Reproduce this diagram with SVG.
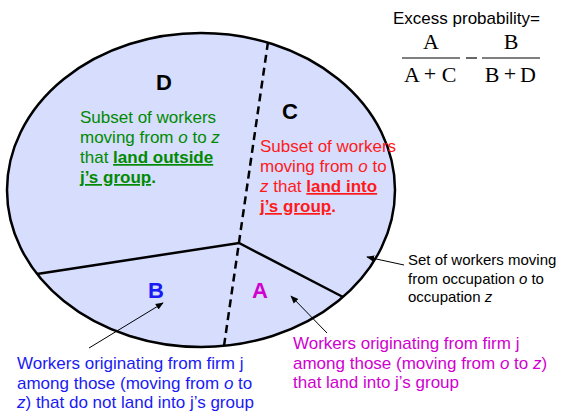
<svg xmlns="http://www.w3.org/2000/svg" width="563" height="412" viewBox="0 0 563 412">
<style>
  text { font-family: "Liberation Sans", Arial, sans-serif; }
  .lbl { font-size: 22px; font-weight: bold; }
  .t { font-size: 17px; }
  .s { font-size: 15px; fill: #000; }
  .f { font-family: "Liberation Serif", "Times New Roman", serif; font-size: 22px; fill: #000; text-anchor: middle; }
  .b { font-weight: bold; text-decoration: underline; }
  .i { font-style: italic; }
  .div { stroke: #000; stroke-width: 2.5; fill: none; }
  .dash { stroke: #000; stroke-width: 2.5; fill: none; stroke-dasharray: 8 5; }
  .arr { stroke: #000; stroke-width: 1; fill: none; marker-end: url(#ah); }
</style>
<defs>
  <marker id="ah" viewBox="0 0 10 10" refX="9" refY="5" markerWidth="8" markerHeight="8" markerUnits="userSpaceOnUse" orient="auto">
    <path d="M0,1 L10,5 L0,9 z" fill="#000"/>
  </marker>
</defs>
<rect width="563" height="412" fill="#fff"/>
<g id="set">
  <ellipse cx="201" cy="190" rx="194" ry="157" fill="#d6ddfd"/>
</g>
<g id="connectors">
  <polyline class="div" points="37,274 239,243 343,297"/>
  <line class="dash" x1="268" y1="42" x2="224" y2="346"/>
  <line class="arr" x1="89" y1="348" x2="163" y2="303"/>
  <line class="arr" x1="327" y1="333" x2="291" y2="296"/>
  <line class="arr" x1="404" y1="265" x2="367" y2="257"/>
</g>
<g id="set-outline">
  <ellipse cx="201" cy="190" rx="194" ry="157" fill="none" stroke="#000" stroke-width="2.5"/>
</g>
<g id="D">
  <text class="lbl" x="156" y="90" fill="#000">D</text>
  <text class="t" fill="#008a00">
    <tspan x="80" y="123">Subset of workers</tspan>
    <tspan x="80" y="143">moving from <tspan class="i">o</tspan> to <tspan class="i">z</tspan></tspan>
    <tspan x="80" y="163">that <tspan class="b">land outside</tspan></tspan>
    <tspan x="80" y="183"><tspan class="b">j’s group</tspan><tspan font-weight="bold">.</tspan></tspan>
  </text>
</g>
<g id="C">
  <text class="lbl" x="282" y="119" fill="#000">C</text>
  <text class="t" fill="#ff1a1a">
    <tspan x="260" y="152">Subset of workers</tspan>
    <tspan x="260" y="172">moving from <tspan class="i">o</tspan> to</tspan>
    <tspan x="260" y="192"><tspan class="i">z</tspan> that <tspan class="b">land into</tspan></tspan>
    <tspan x="260" y="212"><tspan class="b">j’s group</tspan><tspan font-weight="bold">.</tspan></tspan>
  </text>
</g>
<g id="B">
  <text class="lbl" x="148" y="298" fill="#1a1af5">B</text>
  <text class="t" fill="#1a1af5">
    <tspan x="17" y="369">Workers originating from firm j</tspan>
    <tspan x="17" y="389">among those (moving from <tspan class="i">o</tspan> to</tspan>
    <tspan x="17" y="408"><tspan class="i">z</tspan>) that do not land into j’s group</tspan>
  </text>
</g>
<g id="A">
  <text class="lbl" x="252" y="298" fill="#d000d0">A</text>
  <text class="t" fill="#d000d0">
    <tspan x="293" y="349">Workers originating from firm j</tspan>
    <tspan x="293" y="369">among those (moving from <tspan class="i">o</tspan> to <tspan class="i">z</tspan>)</tspan>
    <tspan x="293" y="388">that land into j’s group</tspan>
  </text>
</g>
<g id="set-label">
  <text class="s">
    <tspan x="408" y="265">Set of workers moving</tspan>
    <tspan x="408" y="284">from occupation <tspan class="i">o</tspan> to</tspan>
    <tspan x="408" y="302">occupation <tspan class="i">z</tspan></tspan>
  </text>
</g>
<g id="formula">
  <text x="393" y="24" font-size="17" fill="#000">Excess probability=</text>
  <text class="f" x="431" y="49">A</text>
  <text class="f" x="511" y="49">B</text>
  <line x1="402" y1="58" x2="460" y2="58" stroke="#000" stroke-width="1.2"/>
  <line x1="466" y1="58" x2="477" y2="58" stroke="#000" stroke-width="1.2"/>
  <line x1="482" y1="58" x2="540" y2="58" stroke="#000" stroke-width="1.2"/>
  <text class="f" x="412" y="82">A</text>
  <text class="f" x="430" y="81">+</text>
  <text class="f" x="449" y="82">C</text>
  <text class="f" x="492" y="82">B</text>
  <text class="f" x="510" y="81">+</text>
  <text class="f" x="528" y="82">D</text>
</g>
</svg>
